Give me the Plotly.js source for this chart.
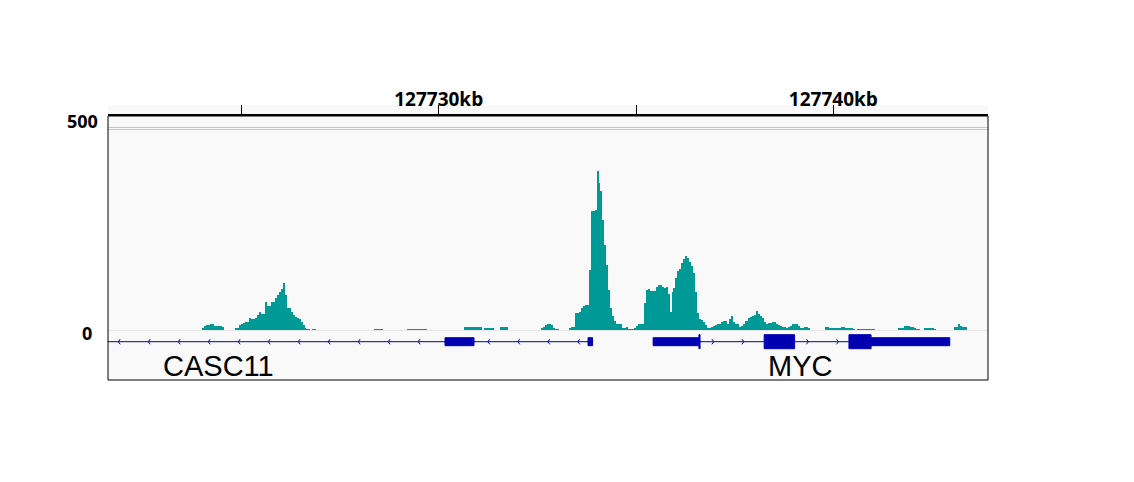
<!DOCTYPE html>
<html><head><meta charset="utf-8">
<script src="https://cdn.plot.ly/plotly-3.0.1.min.js"></script>
<style>body{margin:0;background:#fff}#chart{width:1134px;height:482px}</style>
</head><body><div id="chart"></div>
<script>
// ---- view / axis ----
const viewRangeKb = [127721.62, 127743.92];
const tickVals = [127725, 127730, 127735, 127740];
const tickText = ['', '127730kb', '', '127740kb'];
const dataRangeLabels = ['500', '0'];

// ---- coverage (50 bp bins starting at covStartKb) ----
const covStartKb = 127724.0;
const covBinKb = 0.05;
const coverage = [
  6,10,12,12,14,15,10,10,10,9,
  7,0,0,0,0,0,0,4,4,12,
  15,18,19,20,29,28,28,30,37,44,
  39,39,68,60,60,68,68,80,86,94,
  101,117,86,53,53,44,37,32,29,26,
  20,12,5,2,2,0,2,2,0,0,
  0,0,0,0,0,0,0,0,0,0,
  0,0,0,0,0,0,0,0,0,0,
  0,0,0,0,0,0,0,2,2,2,
  2,2,0,0,0,0,0,0,0,0,
  0,0,0,0,3,3,3,3,3,3,
  3,3,3,3,0,0,0,0,0,0,
  0,0,0,0,0,0,0,0,0,0,
  0,0,0,8,8,8,8,8,8,8,
  8,8,0,5,5,5,5,5,0,0,
  0,7,7,7,7,0,0,0,0,0,
  0,0,0,0,0,0,0,0,0,0,
  0,0,6,7,12,15,14,12,5,2,
  2,0,0,0,0,1,4,8,8,43,
  43,45,54,59,62,62,148,293,294,296,
  392,361,342,271,209,160,99,54,34,22,
  16,16,16,6,5,8,2,2,2,4,
  9,14,15,16,66,99,100,95,95,95,
  105,111,112,107,103,106,89,45,94,103,
  128,145,150,165,174,182,177,167,158,140,
  94,42,28,25,20,12,5,6,8,9,
  12,14,16,20,22,22,16,26,34,20,
  16,15,8,10,15,21,23,29,31,34,
  37,47,39,34,30,20,16,18,18,20,
  20,16,12,11,7,7,4,7,11,15,
  15,15,10,6,6,7,7,6,0,0,
  0,0,0,0,0,0,7,7,5,4,
  4,6,6,6,7,7,4,4,4,4,
  3,0,2,2,2,2,2,2,2,2,
  2,0,0,0,0,0,0,0,0,0,
  0,0,0,6,6,6,11,11,10,7,
  7,5,3,3,0,0,5,5,5,5,
  5,3,0,0,0,0,0,0,0,0,
  0,8,8,14,10,8,8,7,0
];

// ---- genes ----
const geneNames = ['CASC11', 'MYC'];
const geneStrand = ['-', '+'];
const geneStartKb = [127717.73, 127735.434];
const geneEndKb = [127733.90, 127742.951];
const casc11Exons = [[127730.16, 127730.895], [127733.784, 127733.90]];
const mycExons = [[127735.434, 127736.623], [127738.248, 127739.019], [127740.396, 127742.951]];
const mycCds = [127736.594, 127740.957];
const geneLabelKb = [127724.43, 127739.16];

// ---- style ----
const covColor = '#009a96';
const geneColor = '#0000b2';
const bg = '#f9f9f9';
const trackY = 225.7, thinH = 4, thickH = 7, arrowDx = 0.05, arrowDy = 2.6;
const arrowOffset = 0.35, arrowSpacing = 0.76;

const binX = coverage.map((v, i) => covStartKb + (i + 0.5) * covBinKb);
const traces = [{
  type: 'bar', x: binX, y: coverage, width: covBinKb,
  marker: {color: covColor, line: {width: 0}}, hoverinfo: 'skip', xaxis: 'x', yaxis: 'y'
}];

const exonSets = [casc11Exons, mycExons];
const cdsSets = [null, mycCds];
const shapes = [];
shapes.push({type: 'rect', xref: 'paper', yref: 'paper', x0: 0, x1: 1, y0: 1, y1: 1 + 11 / 264,
  fillcolor: bg, line: {width: 0}, layer: 'below'});
[11.5, 13.5].forEach(yy => shapes.push({type: 'line', xref: 'paper', yref: 'y2', x0: 0, x1: 1, y0: yy, y1: yy,
  line: {color: '#c8c8c8', width: 1}, layer: 'below'}));
shapes.push({type: 'line', xref: 'paper', yref: 'y2', x0: 0, x1: 1, y0: 214.5, y1: 214.5,
  line: {color: '#e8e8e8', width: 1}, layer: 'below'});

geneNames.forEach((g, gi) => {
  traces.push({type: 'scatter', mode: 'lines', x: [geneStartKb[gi], geneEndKb[gi]], y: [trackY, trackY],
    line: {color: geneColor, width: 1}, xaxis: 'x', yaxis: 'y2', hoverinfo: 'skip'});
  const ex = exonSets[gi];
  const cds = cdsSets[gi];
  ex.forEach(e => {
    const parts = [];
    if (!cds) parts.push([e[0], e[1], thinH]);
    else {
      const a = Math.max(e[0], cds[0]), b = Math.min(e[1], cds[1]);
      if (a < b) {
        if (e[0] < a) parts.push([e[0], a, thinH]);
        parts.push([a, b, thickH]);
        if (b < e[1]) parts.push([b, e[1], thinH]);
      } else parts.push([e[0], e[1], thinH]);
    }
    parts.forEach(p => shapes.push({type: 'rect', xref: 'x', yref: 'y2', x0: p[0], x1: p[1],
      y0: trackY - p[2], y1: trackY + p[2], fillcolor: geneColor, line: {color: geneColor, width: 1}}));
  });
  const introns = [];
  let prev = geneStartKb[gi];
  ex.forEach(e => { if (e[0] > prev) introns.push([prev, e[0]]); prev = e[1]; });
  const ax = [], ay = [];
  const dir = geneStrand[gi] === '+' ? -1 : 1;
  introns.forEach(iv => {
    for (let p = iv[0] + arrowOffset; p < iv[1] - 0.2; p += arrowSpacing) {
      ax.push(p + dir * arrowDx, p, p + dir * arrowDx, null);
      ay.push(trackY - arrowDy, trackY, trackY + arrowDy, null);
    }
  });
  traces.push({type: 'scatter', mode: 'lines', x: ax, y: ay, line: {color: geneColor, width: 1},
    xaxis: 'x', yaxis: 'y2', hoverinfo: 'skip', connectgaps: false});
});

const annotations = [];
geneNames.forEach((g, gi) => annotations.push({text: g, xref: 'x', yref: 'y2', x: geneLabelKb[gi], y: 250,
  xanchor: 'center', yanchor: 'middle', showarrow: false,
  font: {family: 'Liberation Sans, Arial, sans-serif', size: 29, color: '#000'}}));
annotations.push({text: dataRangeLabels[0], xref: 'paper', yref: 'y2', x: -25.5 / 880, y: 4.5,
  xanchor: 'center', yanchor: 'middle', showarrow: false,
  font: {family: 'Open Sans', size: 18, weight: 'bold', color: '#000'}});
annotations.push({text: dataRangeLabels[1], xref: 'paper', yref: 'y2', x: -21.3 / 880, y: 217,
  xanchor: 'center', yanchor: 'middle', showarrow: false,
  font: {family: 'Open Sans', size: 18, weight: 'bold', color: '#000'}});

shapes.push({type: 'rect', xref: 'paper', yref: 'paper', x0: 0, x1: 1, y0: 0, y1: 1,
  line: {color: '#000', width: 1}, fillcolor: 'rgba(0,0,0,0)'});

const layout = {
  width: 1134, height: 482,
  margin: {l: 108, r: 146, t: 116, b: 102, pad: 0},
  paper_bgcolor: '#fff', plot_bgcolor: bg,
  showlegend: false, bargap: 0,
  xaxis: {range: viewRangeKb, side: 'top', showline: true, linecolor: '#000', linewidth: 2,
    ticks: 'outside', ticklen: 9, tickwidth: 1, tickcolor: '#000',
    tickvals: tickVals, ticktext: tickText, showgrid: false, zeroline: false,
    ticklabelstandoff: -9,
    tickfont: {family: 'Open Sans', size: 19, weight: 'bold', color: '#000'}, fixedrange: true},
  yaxis: {range: [-123.15, 527.1], visible: false, fixedrange: true},
  yaxis2: {range: [264, 0], overlaying: 'y', visible: false, fixedrange: true},
  shapes: shapes, annotations: annotations
};
Plotly.newPlot('chart', traces, layout, {displayModeBar: false, staticPlot: true});
</script></body></html>
